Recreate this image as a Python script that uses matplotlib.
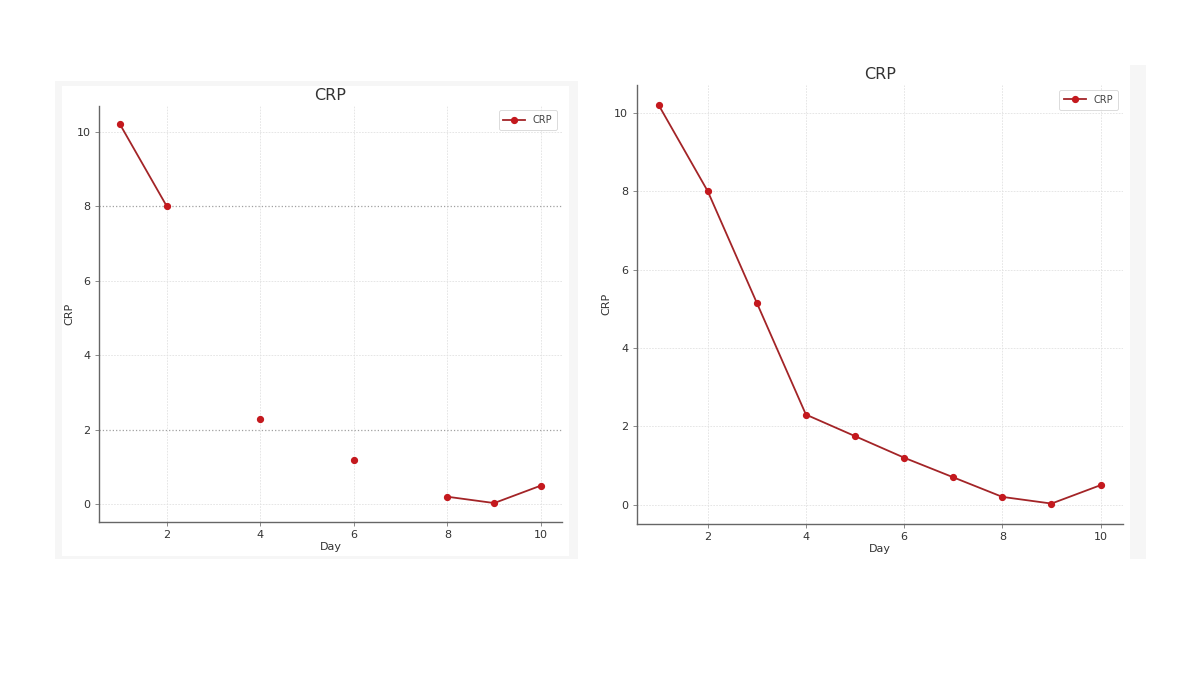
import numpy as np
import matplotlib
matplotlib.use("Agg")
import matplotlib.pyplot as plt
from matplotlib.patches import Rectangle

# data
days = [1, 2, 3, 4, 5, 6, 7, 8, 9, 10]
crp_missing = [10.2, 8.0, np.nan, 2.3, np.nan, 1.2, np.nan, 0.2, 0.03, 0.5]
crp_full = [10.2, 8.0, 5.15, 2.3, 1.75, 1.2, 0.7, 0.2, 0.03, 0.5]
y_ticks = [0, 2, 4, 6, 8, 10]
x_ticks = [2, 4, 6, 8, 10]

LINE = "#a32427"
MARK = "#c4191e"
W, H = 1200, 675

fig = plt.figure(figsize=(12, 6.75), dpi=100)
fig.patch.set_facecolor("white")


def px_rect(x0, y0, x1, y1, color):
    # rectangle given in pixels from top-left
    fig.add_artist(Rectangle((x0 / W, 1 - y1 / H), (x1 - x0) / W, (y1 - y0) / H,
                             transform=fig.transFigure, facecolor=color,
                             edgecolor="none", zorder=0))


# faint screenshot frames behind the panels
px_rect(55, 81, 578, 559, "#f6f6f6")
px_rect(62, 86, 569, 556, "white")
px_rect(1130, 65, 1146, 559, "#f6f6f6")


def style(ax, title, title_pad):
    ax.set_title(title, fontsize=11.5, color="#333333", pad=title_pad)
    ax.set_xlabel("Day", fontsize=8, color="#333333", labelpad=1.5)
    ax.set_ylabel("CRP", fontsize=8, color="#333333", labelpad=2)
    ax.set_xticks(x_ticks)
    ax.set_yticks(y_ticks)
    ax.tick_params(labelsize=8, colors="#333333", length=3, width=0.6,
                   pad=3)
    ax.tick_params(axis="both", color="#777777")
    for s in ["top", "right"]:
        ax.spines[s].set_visible(False)
    for s in ["left", "bottom"]:
        ax.spines[s].set_color("#666666")
        ax.spines[s].set_linewidth(1.0)
    ax.grid(True, color="#e2e2e2", linestyle=(0, (2, 1.5)), linewidth=0.6)
    ax.set_axisbelow(True)
    leg = ax.legend(loc="upper right", fontsize=7, frameon=True,
                    handlelength=2.2, borderpad=0.5, labelcolor="#444444")
    leg.get_frame().set_edgecolor("#cccccc")
    leg.get_frame().set_linewidth(0.6)


# left panel: days with gaps
ax1 = fig.add_axes([99 / W, 1 - 522 / H, (562 - 99) / W, (522 - 105.5) / H])
ax1.plot(days, crp_missing, color=LINE, linewidth=1.3, marker="o",
         markersize=4.2, markerfacecolor=MARK, markeredgecolor=MARK,
         label="CRP")
style(ax1, "CRP", 4)
# the two darker dotted gridlines seen in the screenshot
for val, gl in zip(ax1.get_yticks(), ax1.get_ygridlines()):
    if val in (2, 8):
        gl.set_color("#a0a0a0")
        gl.set_linestyle(":")
        gl.set_linewidth(0.9)

# right panel: all days
ax2 = fig.add_axes([636.5 / W, 1 - 523.5 / H, (1122.7 - 636.5) / W, (523.5 - 85) / H])
ax2.plot(days, crp_full, color=LINE, linewidth=1.3, marker="o",
         markersize=4.2, markerfacecolor=MARK, markeredgecolor=MARK,
         label="CRP")
style(ax2, "CRP", 4)

fig.savefig("out.png", dpi=100, facecolor="white")
